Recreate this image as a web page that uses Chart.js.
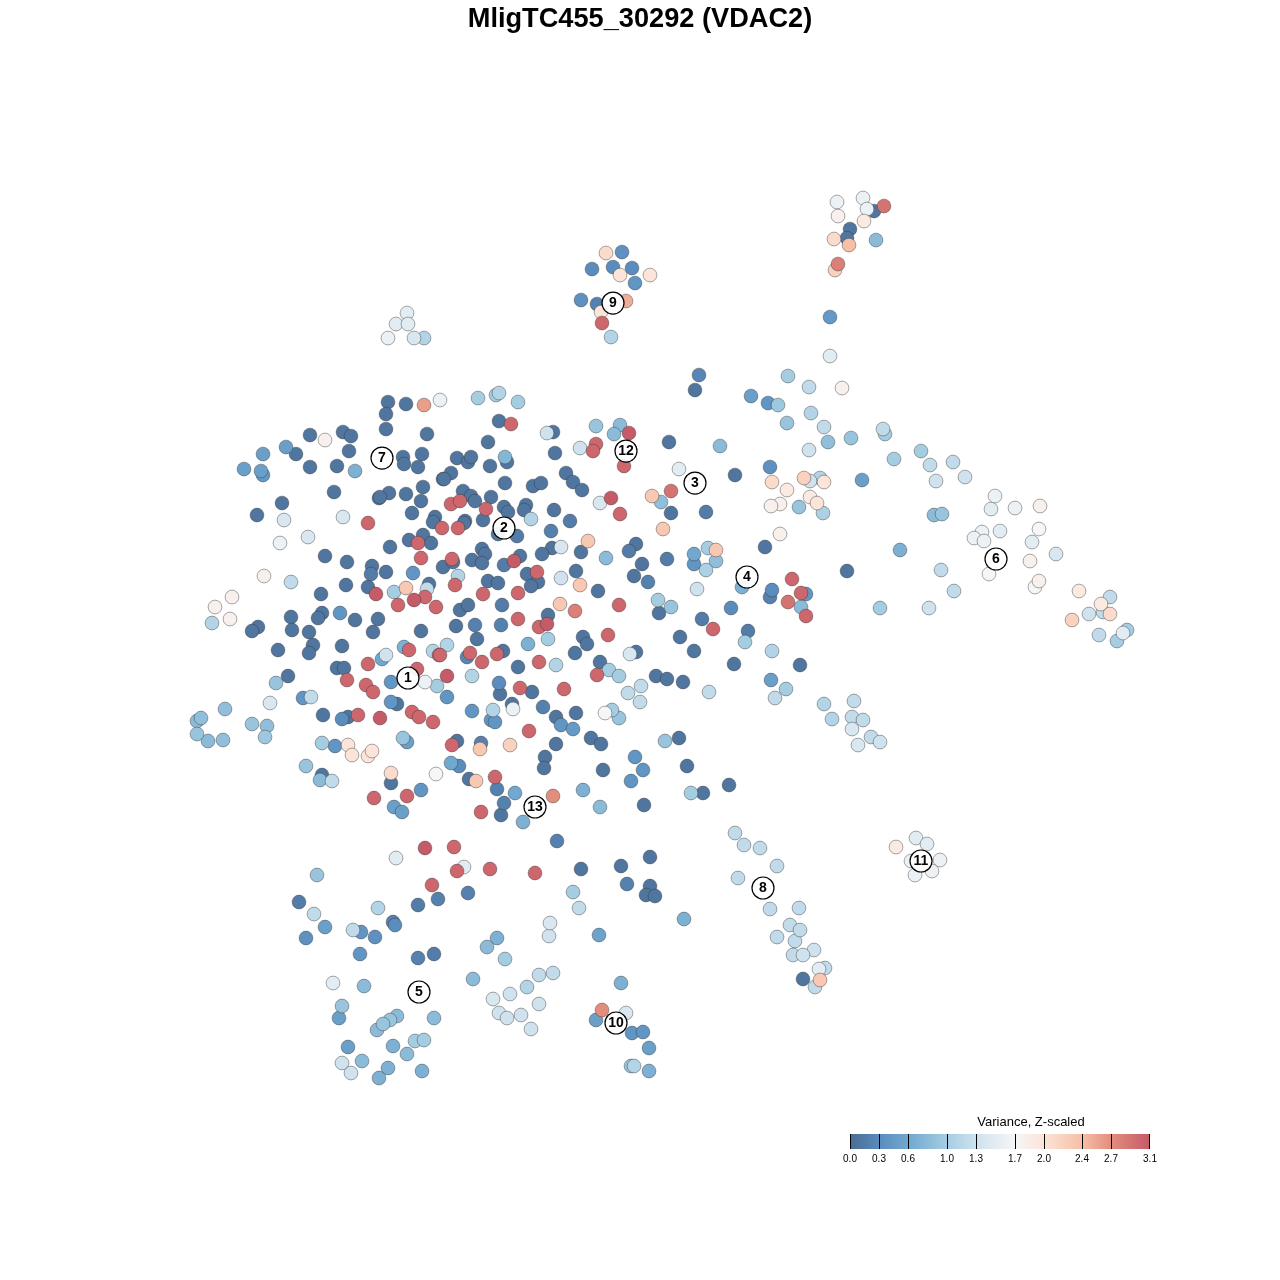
<!DOCTYPE html>
<html>
<head>
<meta charset="utf-8">
<title>MligTC455_30292 (VDAC2)</title>
<script src="https://cdn.jsdelivr.net/npm/chart.js@4"></script>
<style>
  body { margin: 0; background: #fff; }
  canvas { display: block; }
</style>
</head>
<body>
<canvas id="tsneChart" width="1280" height="1280"></canvas>
<script>
// embedding coordinates
const pointX = [
  388,406,424,440,386,386,427,310,325,343,
  351,349,286,296,263,244,263,261,310,337,
  355,403,404,418,422,334,282,257,284,343,
  368,308,280,389,379,380,406,423,421,412,
  443,435,433,442,390,409,423,418,431,421,
  413,443,325,347,372,371,386,346,368,376,
  394,406,429,427,425,414,398,436,264,291,
  321,232,215,230,212,291,322,318,340,355,
  378,258,252,292,309,373,421,
  // centre
  478,496,499,518,499,511,553,547,488,596,
  620,614,629,669,580,596,593,555,624,457,
  468,471,490,507,505,679,451,444,505,566,
  573,582,533,541,652,671,661,671,611,600,
  620,463,471,475,491,451,460,486,504,508,
  526,524,531,554,570,465,464,483,458,498,
  517,551,663,588,561,552,542,581,636,629,
  606,642,667,482,485,472,482,452,453,520,
  504,514,458,527,537,538,531,576,561,580,
  634,648,488,498,455,598,483,518,658,
  671,659,460,468,502,560,575,619,548,518,
  456,475,501,539,547,680,608,583,587,575,
  // lower left
  278,313,309,342,404,409,382,386,433,439,
  368,337,344,347,288,276,366,373,391,417,
  425,437,391,397,303,311,270,225,323,348,
  342,358,380,412,419,433,197,201,197,208,
  223,252,267,265,322,335,348,352,368,372,
  407,403,306,322,320,332,391,391,436,421,
  374,407,394,402,425,396,317,432,
  // lower centre
  447,440,477,467,470,482,497,503,528,548,
  636,630,518,539,556,600,609,619,597,656,
  667,683,472,447,499,500,520,532,564,641,
  628,640,447,472,493,512,513,543,491,495,
  556,576,561,573,612,605,619,529,591,601,
  665,679,556,510,480,481,457,452,545,544,
  635,643,631,603,687,451,459,469,476,495,
  497,515,553,583,600,644,691,703,504,481,
  501,523,557,454,464,457,490,535,581,621,
  650,627,650,646,655,468,573,418,438,
  // upper right
  699,695,751,768,778,788,809,830,842,811,
  787,824,828,851,883,885,809,921,894,930,
  720,770,735,862,936,772,804,820,810,824,
  787,780,771,799,810,817,823,934,942,706,
  780,765,900,708,716,694,694,716,706,847,
  941,742,697,792,772,770,801,806,788,
  // top islands
  837,863,874,867,884,838,864,850,847,834,
  849,876,838,835,830,
  606,622,592,613,632,620,650,635,581,597,
  626,601,602,611,
  407,396,408,388,414,424,
  // far right
  953,965,995,1015,1040,991,1039,982,1000,974,
  984,1032,1056,1030,989,1039,1035,954,929,880,
  1079,1101,1110,1089,1103,1110,1072,1099,1127,1123,
  1117,
  // middle right
  731,702,713,748,745,694,772,734,800,771,
  786,775,709,824,854,832,852,863,852,871,
  880,858,801,806,729,
  // clusters 8 and 11
  735,744,760,777,738,770,799,790,777,795,
  800,814,793,803,819,825,803,820,815,
  916,927,896,911,940,915,932,
  // bottom
  299,314,378,306,325,353,361,375,393,395,
  360,418,434,333,364,342,339,397,390,383,
  377,434,348,393,415,424,407,362,342,351,
  388,379,422,
  487,497,505,473,539,553,527,510,493,539,
  499,507,521,531,550,549,579,599,684,
  621,602,626,596,632,643,649,631,634,649
];

const pointY = [
  402,404,405,400,414,429,434,435,440,432,
  436,451,447,454,454,469,475,471,467,466,
  471,457,464,467,454,492,503,515,520,517,
  523,537,543,493,498,497,494,487,501,513,
  479,517,522,528,547,540,535,543,543,558,
  573,567,556,562,566,574,572,585,587,594,
  592,588,584,589,597,600,605,607,576,582,
  594,597,607,619,623,617,613,618,613,620,
  619,627,631,630,632,632,631,
  // centre
  398,395,393,402,421,424,432,433,442,426,
  425,434,433,442,448,444,451,453,466,458,
  462,457,466,462,457,469,473,479,483,473,
  482,490,486,483,496,491,502,513,498,503,
  514,491,496,501,497,504,501,509,507,512,
  505,510,519,510,521,521,523,520,528,534,
  536,531,529,541,547,548,554,552,544,551,
  558,564,559,549,554,560,563,559,562,556,
  565,561,576,574,572,582,586,571,578,585,
  576,582,581,583,585,591,594,593,600,
  607,613,610,605,605,604,611,605,615,619,
  626,625,625,627,624,637,635,637,644,653,
  // lower left
  650,645,653,646,647,650,659,655,651,655,
  664,668,668,680,676,683,685,692,682,669,
  682,686,702,704,698,697,703,709,715,717,
  719,715,718,712,717,722,721,718,734,741,
  740,724,726,737,743,746,745,755,756,751,
  742,738,766,775,780,781,783,773,774,790,
  798,796,807,812,848,858,875,885,
  // lower centre
  645,655,639,657,653,662,654,651,644,639,
  652,654,667,662,665,662,670,676,675,676,
  679,682,676,676,683,694,688,692,689,686,
  693,702,697,711,710,704,709,707,720,722,
  717,713,725,729,710,713,718,731,738,744,
  741,738,744,745,749,743,741,745,757,768,
  757,770,781,770,766,763,766,779,781,777,
  789,793,796,790,807,805,793,793,803,812,
  815,822,841,847,867,871,869,873,869,866,
  857,884,886,895,896,893,892,905,899,
  // upper right
  375,390,396,403,405,376,387,356,388,413,
  423,427,442,438,429,434,450,451,459,465,
  446,467,475,480,481,482,478,478,481,482,
  490,504,506,507,497,503,513,515,514,512,
  534,547,550,548,550,554,564,561,570,571,
  570,587,589,579,590,597,593,594,602,
  // top islands
  202,198,211,209,206,216,221,229,238,239,
  245,240,264,270,317,
  253,252,269,267,268,275,275,283,300,304,
  301,312,323,337,
  313,324,324,338,338,338,
  // far right
  462,477,496,508,506,509,529,532,531,538,
  541,542,554,561,574,581,587,591,608,608,
  591,604,597,614,612,614,620,635,630,633,
  641,
  // middle right
  608,619,629,631,642,651,651,664,665,680,
  689,698,692,704,701,719,717,720,729,737,
  742,745,607,616,785,
  // clusters 8 and 11
  833,845,848,866,878,909,908,925,937,941,
  930,950,955,955,969,968,979,980,987,
  838,844,847,861,860,875,871,
  // bottom
  902,914,908,938,927,930,932,937,922,925,
  954,958,954,983,986,1006,1018,1016,1020,1024,
  1030,1018,1047,1046,1041,1040,1054,1061,1063,1073,
  1068,1078,1071,
  947,938,959,979,975,973,987,994,999,1004,
  1013,1018,1015,1029,923,936,908,935,919,
  983,1010,1013,1020,1033,1032,1048,1066,1066,1071
];

// variance, z-scaled, estimated from each point's colour
const pointVariance = [
  .1,.1,2.6,1.6,.1,.1,.1,.1,1.8,.1,
  .1,.1,.5,.1,.5,.5,.45,.5,.1,.1,
  .7,.1,.1,.1,.1,.1,.1,.1,1.4,1.4,
  3,1.4,1.6,.1,.1,.1,.1,.1,.1,.1,
  .1,.1,.1,3,.1,.1,.1,3,.1,3,
  .4,.1,.1,.1,.1,.15,.1,.1,.1,3.1,
  1,2.3,.1,1.2,3,3.1,3,3,1.8,1.2,
  .1,1.8,1.8,1.8,1.1,.1,.1,.1,.4,.1,
  .1,.1,.1,.1,.1,.1,.1,
  // centre
  1,1,1.1,1,.1,3,.1,1.3,.1,.9,
  .8,.8,3.1,.1,1.3,3,3,.1,3,.1,
  .1,.1,.1,.1,.75,1.5,.1,.1,.1,.1,
  .1,.1,.1,.1,2.3,2.9,.85,.1,3.1,1.4,
  3,.1,.1,.1,.1,3,3,3,.1,.1,
  .1,.1,1.1,.1,.15,.1,.1,.1,3,.1,
  .15,.2,2.3,2.3,1.4,.1,.1,.1,.1,.15,
  .8,.1,.15,.1,.1,.1,.1,3,.1,.1,
  .15,3.1,1.1,.1,3,.1,.1,.1,1.3,2.3,
  .1,.2,.1,.1,3,.1,3,3,1,
  .9,.1,.1,.1,.15,2.3,2.8,3,.1,3,
  .1,.2,.2,3,3.1,.1,3,.1,.1,.1,
  // lower left
  .1,.1,.1,.1,.7,3,.6,1.3,1.1,3,
  3,.1,.1,3,.1,.9,3,3,.4,3,
  1.6,1,.4,.1,.4,1.2,1.4,.85,.1,.1,
  .3,3,3.1,3,3,3,.8,.85,.9,.8,
  .85,.9,.85,.95,1,.4,2,2,2,2,
  .5,.9,.9,.1,.8,1.2,.1,2.1,1.7,.4,
  3,3,.5,.5,3.1,1.5,.9,3,
  // lower centre
  1.1,3,.1,.25,3,3,3,.1,.7,1,
  .1,1.4,.1,3,1.1,.1,1,1,3,.1,
  .1,.1,1.1,3.1,.3,.1,3,.1,3,1.2,
  1.2,1.2,.4,.4,1.1,.1,1.6,.2,.4,.4,
  .1,.1,.4,.45,1,1.7,.9,3,.1,.1,
  .9,.1,.1,2.2,2.3,.2,.1,3,.1,.1,
  .4,.4,.4,.1,.1,.6,.3,.1,2.3,3,
  .2,.6,2.7,.7,.8,.1,1,.1,.2,3,
  .1,.7,.2,3,1.5,3,3,3,.1,.1,
  .1,.2,.1,.1,.1,.2,1,.15,.2,
  // upper right
  .25,.1,.5,.4,.95,1,1.2,1.5,1.8,1.1,
  .9,1.2,.85,.9,1.2,1,1.3,1,1,1.2,
  .8,.35,.1,.5,1.3,2.1,2.2,1.1,1.3,2,
  1.9,1.8,1.8,.9,1.9,2,1.05,.8,.9,.15,
  1.8,.1,.7,1,2.3,.6,.4,.85,1.05,.1,
  1.2,.7,1.3,3,.3,.2,3,.4,2.9,
  // top islands
  1.6,1.6,.1,1.6,2.9,1.8,1.9,.1,.1,2.1,
  2.4,.8,2.8,2.2,.45,
  2.1,.35,.3,.3,.3,2,2,.4,.35,.2,
  2.5,2,3,1.1,
  1.5,1.5,1.5,1.6,1.4,1.1,
  // far right
  1.2,1.3,1.6,1.6,1.8,1.5,1.7,1.6,1.5,1.6,
  1.6,1.5,1.4,1.8,1.7,1.8,1.7,1.2,1.3,1,
  1.9,1.9,1.2,1.3,1.2,2.1,2.2,1.2,1,1.5,
  1,
  // middle right
  .3,.15,3,.15,1,.1,1.1,.1,.1,.5,
  1,1.2,1.2,1.1,1.2,1.1,1.2,1.2,1.4,1.2,
  1.3,1.4,.8,3,.1,
  // clusters 8 and 11
  1.2,1.2,1.2,1.2,1.2,1.2,1.2,1.2,1.2,1.2,
  1.2,1.3,1.2,1.3,1.5,1.2,.1,2.3,1.2,
  1.5,1.5,1.9,1.6,1.6,1.6,1.6,
  // bottom
  .15,1.2,1.1,.35,.5,1.2,.4,.35,.2,.3,
  .4,.2,.15,1.5,.8,.9,.5,.8,.9,.9,
  .8,.8,.5,.7,1,1,.8,.8,1.3,1.3,
  .7,.7,.7,
  .8,.7,1,.8,1.2,1.2,1.1,1.3,1.4,1.3,
  1.3,1.3,1.3,1.3,1.4,1.3,1.2,.55,.7,
  .7,2.7,1.4,.5,.4,.4,.5,.9,1.1,.7
];

// numbered cluster labels
const clusterNames = ["1","2","3","4","5","6","7","8","9","10","11","12","13"];
const clusterX = [408,504,695,747,419,996,382,763,613,616,921,626,535];
const clusterY = [678,528,483,577,992,559,458,888,303,1023,861,451,807];

// colour bar
const tickValues = [0,0.3,0.6,1.0,1.3,1.7,2.0,2.4,2.7,3.1];
const tickLabels = ["0.0","0.3","0.6","1.0","1.3","1.7","2.0","2.4","2.7","3.1"];
const tickColors = ["#4b6b92","#5a8cbd","#70a8cf","#a5cde2","#cfe2ee","#f5f6f7","#fce4d8","#f6bfa6","#e38d7c","#c55a68"];

const hexToRgb = (hex) => [1, 3, 5].map((i) => parseInt(hex.slice(i, i + 2), 16));

// same colour ramp as the bar
function varianceColor(value) {
  let i = 0;
  while (i < tickValues.length - 2 && value > tickValues[i + 1]) i++;
  const t = Math.min(1, (value - tickValues[i]) / (tickValues[i + 1] - tickValues[i]));
  const a = hexToRgb(tickColors[i]);
  const b = hexToRgb(tickColors[i + 1]);
  const rgb = a.map((c, k) => Math.round(c + (b[k] - c) * t));
  return `rgb(${rgb.join(",")})`;
}

// high values are painted last, like the original plot
const drawOrder = pointVariance
  .map((value, i) => i)
  .sort((a, b) => pointVariance[a] - pointVariance[b]);

const clusterTextPlugin = {
  id: "clusterText",
  afterDatasetsDraw(chart) {
    const { ctx, scales } = chart;
    ctx.save();
    ctx.fillStyle = "#000";
    ctx.font = 'bold 14px "Liberation Sans"';
    ctx.textAlign = "center";
    ctx.textBaseline = "middle";
    clusterNames.forEach((name, i) => {
      ctx.fillText(name, scales.x.getPixelForValue(clusterX[i]), scales.y.getPixelForValue(clusterY[i]) + 0.5);
    });
    ctx.restore();
  },
};

const colorBarPlugin = {
  id: "colorBar",
  afterDraw(chart) {
    const { ctx } = chart;
    const left = 850;
    const width = 300;
    const top = 1134;
    const height = 15;
    const maxValue = tickValues[tickValues.length - 1];
    const gradient = ctx.createLinearGradient(left, 0, left + width, 0);
    tickValues.forEach((value, i) => gradient.addColorStop(value / maxValue, tickColors[i]));

    ctx.save();
    ctx.fillStyle = gradient;
    ctx.fillRect(left, top, width, height);

    ctx.fillStyle = "#000";
    ctx.textAlign = "center";
    ctx.textBaseline = "middle";
    ctx.font = '13px "Liberation Sans"';
    ctx.fillText("Variance, Z-scaled", 1031, 1122.5);

    ctx.font = '10px "Liberation Sans"';
    tickValues.forEach((value, i) => {
      const x = Math.round(left + (value / maxValue) * width);
      ctx.fillRect(x - (i === tickValues.length - 1 ? 1 : 0), top, 1, height);
      ctx.fillText(tickLabels[i], x, 1159.5);
    });
    ctx.restore();
  },
};

const ctx = document.getElementById("tsneChart").getContext("2d");

new Chart(ctx, {
  type: "scatter",
  data: {
    datasets: [
      {
        label: "Clusters",
        order: 0,
        data: clusterNames.map((name, i) => ({ x: clusterX[i], y: clusterY[i] })),
        pointRadius: 11,
        pointBackgroundColor: "rgba(255, 255, 255, 0.93)",
        pointBorderColor: "#000",
        pointBorderWidth: 1.2,
      },
      {
        label: "Cells",
        order: 1,
        data: drawOrder.map((i) => ({ x: pointX[i], y: pointY[i] })),
        pointRadius: 6.9,
        pointBackgroundColor: drawOrder.map((i) => varianceColor(pointVariance[i])),
        pointBorderColor: "rgba(50, 50, 50, 0.42)",
        pointBorderWidth: 1,
      },
    ],
  },
  options: {
    responsive: false,
    animation: false,
    layout: { padding: 0, autoPadding: false },
    scales: {
      x: { display: false, min: 0, max: 1280 },
      y: { display: false, min: 40, max: 1280, reverse: true },
    },
    plugins: {
      legend: { display: false },
      tooltip: { enabled: false },
      title: {
        display: true,
        text: "MligTC455_30292 (VDAC2)",
        color: "#000",
        font: { family: '"Liberation Sans"', weight: "bold", size: 27.2 },
        padding: { top: 3, bottom: 4.4 },
      },
    },
  },
  plugins: [clusterTextPlugin, colorBarPlugin],
});
</script>
</body>
</html>
